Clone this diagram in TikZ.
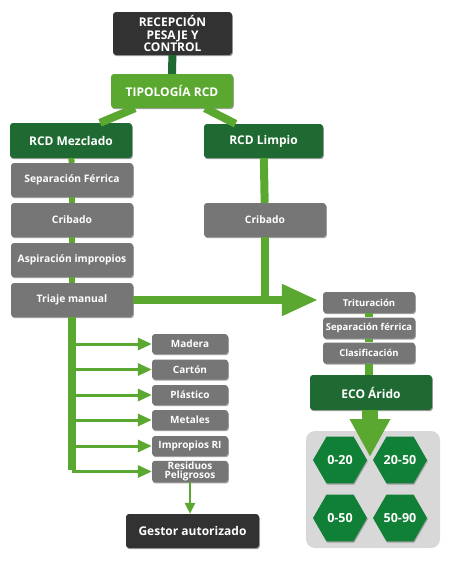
\documentclass[tikz,border=0pt]{standalone}
\usepackage{fontspec}
\setmainfont{Open Sans}
\usepackage{tikz}
\usetikzlibrary{arrows.meta, positioning, shapes.geometric, shadows}
\definecolor{mydark}{RGB}{50, 50, 50}
\definecolor{mydkgreen}{RGB}{30, 106, 50}
\definecolor{mylight}{RGB}{90, 168, 48}
\definecolor{mygray}{RGB}{118, 118, 118}
\definecolor{mypanel}{RGB}{216, 216, 216}
\definecolor{myhex}{RGB}{16, 128, 54}

\begin{document}
\begin{tikzpicture}[x=1pt, y=-1pt,
    box/.style={rectangle, rounded corners=3pt, text=white, font=\bfseries\fontsize{12}{12.5}\selectfont,
        align=center, inner sep=1pt,
        drop shadow={shadow xshift=0.8pt, shadow yshift=-1.2pt, fill=black!60, opacity=.6}},
    darkbox/.style={box, fill=mydark, minimum width=119pt, minimum height=43pt},
    greenbox/.style={box, fill=mydkgreen, minimum width=122pt, minimum height=35pt},
    graybox/.style={box, fill=mygray, minimum width=122pt, minimum height=34pt, font=\bfseries\fontsize{10.3}{11}\selectfont},
    smallbox/.style={box, fill=mygray, minimum width=76pt, minimum height=20pt, font=\bfseries\fontsize{10}{9.5}\selectfont},
    stepbox/.style={box, fill=mygray, minimum width=92pt, minimum height=21pt, font=\bfseries\fontsize{9.5}{10}\selectfont},
    hexa/.style={regular polygon, regular polygon sides=6, minimum size=54pt, inner sep=0pt, fill=myhex,
        text=white, font=\bfseries\fontsize{12.5}{13}\selectfont,
        drop shadow={shadow xshift=0.8pt, shadow yshift=-1.2pt, fill=black!60, opacity=.5}},
    stem/.style={mylight, line width=6pt},
    branch/.style={mylight, line width=3pt, -{Triangle[width=12pt, length=14pt]}}]
    \useasboundingbox[fill=white] (0,0) rectangle (450,565);

    % cabecera
    \node[darkbox] (rec) at (172.5, 33.5) {RECEPCIÓN\\PESAJE Y\\CONTROL};
    \node[box, fill=mylight, minimum width=122pt, minimum height=34pt] (tip) at (172, 91) {TIPOLOGÍA RCD};
    \draw[mydkgreen, line width=8pt] (rec) -- (tip);

    % tipos de RCD
    \node[greenbox] (mez) at (71, 140.5) {RCD Mezclado};
    \node[greenbox, minimum width=119pt, minimum height=34pt] (lim) at (263.5, 141) {RCD Limpio};
    \draw[mylight, line width=8pt] ([xshift=-37pt]tip.south) -- ([xshift=29pt]mez.north);
    \draw[mylight, line width=8pt] ([xshift=33pt]tip.south) -- ([xshift=-28pt]lim.north);

    % RCD mezclado
    \node[graybox] (sep) at (72, 180) {Separación Férrica};
    \node[graybox] (cri1) at (72, 220) {Cribado};
    \node[graybox] (asp) at (72, 260) {Aspiración impropios};
    \node[graybox] (tri) at (72, 300) {Triaje manual};
    \draw[stem] (mez) -- (sep);
    \draw[stem] (sep) -- (cri1);
    \draw[stem] (cri1) -- (asp);
    \draw[stem] (asp) -- (tri);

    % RCD limpio
    \node[graybox] (cri2) at (265, 220) {Cribado};
    \draw[mylight, line width=8pt] (lim) -- (cri2);
    \coordinate (jn) at (cri2 |- tri);
    \draw[mylight, line width=8pt] (cri2) -- ([yshift=4pt]jn);

    % linea de aridos
    \node[stepbox] (trit) at (369, 302.5) {Trituración};
    \node[stepbox] (sepf) at (369, 328) {Separación férrica};
    \node[stepbox] (cla) at (369, 353) {Clasificación};
    \draw[mylight, line width=8pt, -{Triangle[width=30pt, length=36pt]}, shorten >=5pt]
        (tri.east) -- (tri.east -| trit.west);
    \draw[mylight, line width=8pt] (trit) -- (sepf);
    \draw[mylight, line width=8pt] (sepf) -- (cla);
    \node[greenbox] (eco) at (371, 392.5) {ECO Árido};
    \draw[mylight, line width=8pt] (cla) -- (cla |- eco.north);

    % fracciones
    \node[rectangle, rounded corners=9pt, fill=mypanel, minimum width=134pt, minimum height=117pt] (panel) at (373, 489.5) {};
    \coordinate (ecotip) at (370, 457);
    \draw[mylight, line width=16pt, -{Triangle[width=38pt, length=38pt]}] (eco.south -| ecotip) -- (ecotip);
    \node[hexa] (h1) at (340, 460) {0-20};
    \node[hexa] (h2) at (400, 460) {20-50};
    \node[hexa] (h3) at (340, 518) {0-50};
    \node[hexa] (h4) at (400, 518) {50-90};

    % triaje
    \node[smallbox] (mad) at (190, 344) {Madera};
    \node[smallbox] (car) at (190, 369.5) {Cartón};
    \node[smallbox] (pla) at (190, 395) {Plástico};
    \node[smallbox] (met) at (190, 420) {Metales};
    \node[smallbox] (imp) at (190, 446) {Impropios RI};
    \node[smallbox] (res) at (190, 471.5) {Residuos\\Peligrosos};
    \draw[mylight, line width=8pt] (tri) -- ([yshift=1.5pt]tri |- res);
    \foreach \b in {mad, car, pla, met, imp, res}
        \draw[branch] (tri |- \b) -- (\b.west);

    \node[darkbox, minimum width=133pt, minimum height=34pt] (ges) at (192.5, 531) {Gestor autorizado};
    \draw[mylight, line width=2.5pt, -{Triangle[width=10pt, length=11pt]}] (res.south) -- (res.south |- ges.north);
\end{tikzpicture}
\end{document}
